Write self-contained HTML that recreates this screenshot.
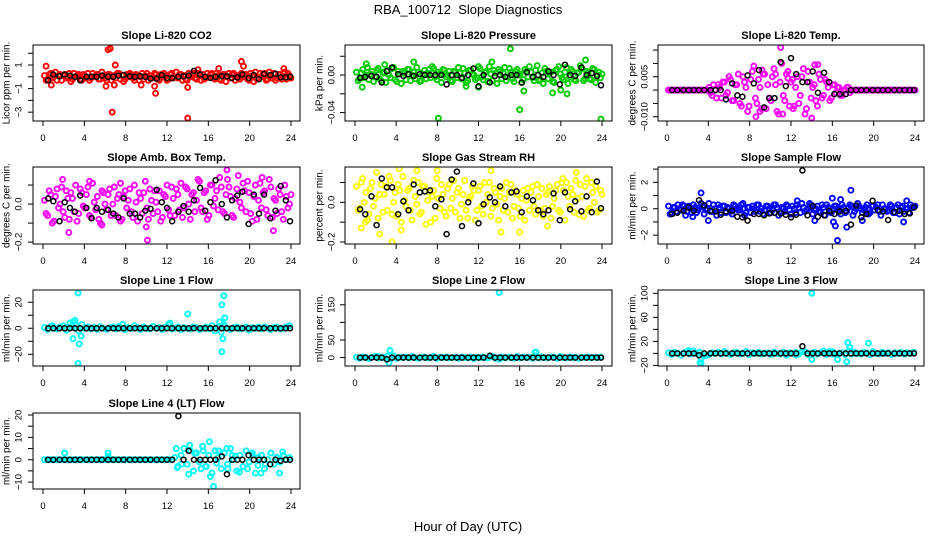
<!DOCTYPE html>
<html><head><meta charset="utf-8"><style>
html,body{margin:0;padding:0;background:#fff;}
svg{display:block;font-family:"Liberation Sans",Arial,sans-serif;}
</style></head><body>
<svg id="chart" width="936" height="540" viewBox="0 0 936 540">
<text x="468" y="14" text-anchor="middle" font-size="13">RBA_100712&#160; Slope Diagnostics</text>
<text x="468" y="531" text-anchor="middle" font-size="13">Hour of Day (UTC)</text>
</svg>
<script>
const sampleHours=[0.15,0.45,0.75,1.05,1.35,1.65,1.95,2.25,2.55,2.85,3.15,3.45,3.75,4.05,4.35,4.65,4.95,5.25,5.55,5.85,6.15,6.45,6.75,7.05,7.35,7.65,7.95,8.25,8.55,8.85,9.15,9.45,9.75,10.05,10.35,10.65,10.95,11.25,11.55,11.85,12.15,12.45,12.75,13.05,13.35,13.65,13.95,14.25,14.55,14.85,15.15,15.45,15.75,16.05,16.35,16.65,16.95,17.25,17.55,17.85,18.15,18.45,18.75,19.05,19.35,19.65,19.95,20.25,20.55,20.85,21.15,21.45,21.75,22.05,22.35,22.65,22.95,23.25,23.55,23.85];
const refHours=[0.5,1.0,1.6,2.1,2.6,3.1,3.6,4.2,4.7,5.2,5.7,6.3,6.8,7.3,7.8,8.4,8.9,9.4,9.9,10.4,11.0,11.5,12.0,12.5,13.1,13.6,14.1,14.6,15.2,15.7,16.2,16.7,17.3,17.8,18.3,18.8,19.3,19.9,20.4,20.9,21.4,22.0,22.5,23.0,23.5,23.9];

const co2A=[0.1,-0.2,0.3,0.0,-0.3,0.2,0.1,-0.1,0.3,-0.2,0.0,0.2,-0.3,0.1,0.3,-0.1,0.0,0.2,-0.2,0.1,-0.3,0.2,0.0,-0.1,0.3,0.1,-0.2,0.0,0.2,-0.3,0.1,0.0,-0.2,0.3,0.1,-0.1,0.2,-0.3,0.0,0.1,-0.2,0.3,0.0,-0.1,0.2,0.1,-0.3,0.0,0.3,-0.2,0.1,0.2,-0.1,0.0,0.3,-0.2,0.1,-0.3,0.2,0.0,-0.1,0.3,0.1,-0.2,0.0,0.2,-0.3,0.1,0.4,-0.1,0.0,0.3,-0.2,0.1,0.3,-0.1,0.2,0.0,-0.2,0.1];
const co2B=[-0.3,0.2,-0.1,0.4,0.1,-0.3,0.2,0.0,-0.4,0.3,0.1,-0.2,0.2,-0.1,-0.3,0.3,0.1,-0.2,0.4,-0.1,0.2,-0.3,0.1,0.3,-0.2,-0.4,0.2,0.3,-0.1,0.2,-0.3,0.3,0.1,-0.3,-0.1,0.3,-0.2,0.2,0.3,-0.3,0.2,-0.1,0.4,0.2,-0.3,-0.2,0.3,0.2,-0.1,0.3,-0.3,-0.2,0.3,0.2,-0.1,0.3,-0.2,0.2,-0.4,0.3,0.2,-0.3,-0.1,0.3,0.2,-0.2,0.3,-0.4,-0.2,0.3,0.2,-0.3,0.4,-0.1,-0.3,0.2,-0.2,0.4,0.3,-0.1];
const co2OutHours=[6.3,6.5,7.0,6.7,14.0,10.9,19.2,19.4,6.1,9.5,10.8,0.3,0.8,6.9,14.0,15.0,17.0,23.3];
const co2OutValues=[2.3,2.4,1.0,-3.0,-3.5,-1.4,1.3,0.9,-0.8,-0.7,-0.8,0.9,-0.7,-0.7,-0.9,0.6,0.7,0.7];
const co2Ref=[-0.3,0.2,0.05,0.2,0.1,0.0,-0.3,0.0,0.0,0.0,0.1,0.0,0.0,0.1,0.15,0.05,0.0,0.05,0.0,-0.15,-0.15,0.15,-0.1,-0.1,0.0,0.05,0.1,0.5,0.2,0.0,-0.1,0.0,0.05,0.05,-0.1,-0.05,0.2,-0.1,0.15,-0.2,0.25,0.15,0.25,-0.05,-0.05,0.0];

const presA=[0.003,-0.004,0.006,0.0,-0.005,0.004,-0.002,0.007,-0.006,0.002,0.005,-0.003,0.008,-0.007,0.001,0.004,-0.005,0.006,0.0,-0.004,0.003,-0.006,0.005,0.002,-0.003,0.007,-0.005,0.001,0.006,-0.002,0.004,-0.007,0.003,0.008,-0.004,0.002,-0.006,0.005,0.0,-0.003,0.007,-0.005,0.004,0.009,-0.006,0.002,0.006,-0.004,0.008,-0.002,0.003,-0.007,0.006,0.001,-0.005,0.004,0.009,-0.003,0.005,-0.006,0.002,0.007,-0.004,0.003,-0.008,0.006,0.001,-0.005,0.008,-0.002,0.004,-0.006,0.003,0.007,-0.004,0.002,-0.005,0.006,0.0,-0.003];
const presB=[-0.006,0.002,-0.003,0.008,0.001,-0.007,0.005,-0.004,0.003,-0.008,0.0,0.007,-0.005,0.004,-0.009,0.002,0.006,-0.006,0.003,0.008,-0.007,0.001,-0.004,0.006,0.009,-0.002,0.003,-0.008,0.005,0.0,-0.006,0.004,-0.003,0.002,0.007,-0.008,0.005,0.001,-0.005,0.009,-0.002,0.003,-0.007,0.001,0.005,-0.009,0.004,0.002,-0.006,0.007,-0.004,0.004,0.0,-0.008,0.006,-0.002,0.003,-0.006,0.010,-0.005,-0.009,0.004,0.002,-0.007,0.005,0.009,-0.003,0.003,-0.009,0.006,-0.005,0.002,0.010,-0.006,0.004,-0.004,0.007,-0.008,0.003,0.001];
const presOutHours=[8.1,15.1,16.0,23.9,16.4,19.2,20.0,20.6,12.0,22.4,13.3,5.7,1.1,0.7,10.8,2.9];
const presOutValues=[-0.046,0.028,-0.037,-0.047,-0.017,-0.019,-0.016,-0.020,-0.013,0.016,0.014,0.014,0.012,-0.013,-0.012,0.011];
const presRef=[-0.003,-0.002,-0.001,-0.002,-0.008,0.004,0.008,0.001,-0.001,0.001,-0.001,0.001,0,0,0,0,-0.010,0,0,-0.003,0,0.007,-0.012,0,-0.008,-0.001,0,-0.002,0,0,-0.008,0.003,-0.002,0,-0.002,0.004,0,-0.010,0.011,0,-0.001,0.008,0,0.002,-0.001,-0.011];

const tempA=[0,0,0,0,0,0,0,0,0,0,0,0,0,0.001,-0.002,0.0,0.002,-0.003,0.003,-0.001,0.004,-0.004,0.002,-0.005,0.005,0.001,-0.006,0.007,-0.003,0.004,-0.007,0.006,0.002,-0.004,0.008,-0.008,0.003,-0.002,0.006,-0.006,0.004,0.001,-0.005,0.005,-0.009,0.007,-0.003,0.002,-0.006,0.004,-0.002,0.003,-0.004,0.002,-0.001,0.001,-0.002,0.0,0.001,0,0,0,0,0,0,0,0,0,0,0,0,0,0,0,0,0,0,0,0,0];
const tempB=[0,0,0,0,0,0,0,0,0,0,0,0,0,-0.001,0.002,-0.003,0.001,0.003,-0.002,0.005,-0.004,0.002,0.006,-0.006,0.003,-0.008,0.004,0.009,-0.005,0.001,0.006,-0.007,-0.003,0.005,0.002,-0.009,0.010,-0.004,0.007,0.003,-0.006,0.005,-0.002,0.008,-0.007,0.003,0.001,-0.004,0.006,-0.003,0.004,0.001,-0.003,0.002,0.001,-0.002,0.0,0.001,-0.001,0,0,0,0,0,0,0,0,0,0,0,0,0,0,0,0,0,0,0,0,0];
const tempOutHours=[11.0,8.6,14.0,11.2,9.0,9.2,14.3,14.6,11.7,12.2,10.5];
const tempOutValues=[0.016,-0.010,-0.0105,-0.009,-0.008,0.0075,0.0095,0.0095,0.0045,-0.007,0.006];
const tempRef=[0,0,0,0,0,0,0,0,0,0,-0.0035,0.0025,-0.002,-0.0025,0.0055,0.0025,0.0075,-0.0065,-0.003,-0.003,0.0105,0.0015,0.012,0.006,0.003,0.003,0.007,-0.001,0.0065,0.003,-0.0015,-0.0015,-0.0015,0,0,0,0,0,0,0,0,0,0,0,0,0];

const ambA=[0.02,-0.06,0.05,-0.09,0.08,0.0,-0.04,0.07,-0.08,0.03,0.1,-0.05,0.06,-0.02,0.09,-0.07,0.01,0.04,-0.1,0.06,-0.03,0.08,0.0,-0.06,0.05,-0.08,0.07,0.02,-0.04,0.1,-0.09,0.03,0.06,-0.02,0.08,-0.05,0.01,0.07,-0.07,0.04,-0.03,0.09,-0.06,0.05,0.11,-0.02,0.08,-0.08,0.06,0.02,0.12,-0.04,0.07,-0.06,0.1,0.03,-0.03,0.09,-0.05,0.13,0.04,-0.07,0.08,0.01,0.11,-0.04,0.06,-0.09,0.1,0.02,-0.02,0.07,-0.06,0.09,0.03,-0.05,0.05,-0.08,0.04,0.0];
const ambB=[-0.05,0.07,-0.1,0.04,-0.02,0.09,-0.07,0.03,0.06,-0.04,-0.09,0.08,-0.01,0.05,-0.06,0.11,-0.03,-0.08,0.07,0.0,0.05,-0.06,0.09,0.03,-0.09,0.04,-0.02,0.08,-0.07,0.01,0.06,-0.05,0.12,-0.08,0.02,0.07,-0.04,-0.09,0.05,0.1,-0.06,0.03,0.08,-0.03,-0.07,0.09,0.0,0.05,-0.04,0.13,-0.02,0.06,-0.08,0.1,-0.01,0.07,0.14,-0.04,0.05,0.09,-0.06,0.03,0.15,-0.02,0.07,0.12,-0.05,0.04,-0.08,0.11,0.06,-0.03,0.13,-0.07,0.02,0.08,-0.04,0.1,-0.02,0.05];
const ambOutHours=[10.1,1.9,17.8,21.2,22.3,2.5,10.0,4.5,7.5,5.7];
const ambOutValues=[-0.19,0.13,0.18,0.14,-0.14,-0.15,-0.12,0.12,0.11,-0.11];
const ambRef=[0.03,0.015,-0.09,0.01,-0.02,-0.04,0.045,-0.02,-0.075,-0.02,-0.04,-0.03,-0.05,-0.07,0.03,-0.05,-0.05,-0.07,-0.035,-0.025,0.075,0.01,-0.02,-0.09,-0.04,-0.01,-0.04,0.02,0.085,-0.035,0.01,0.125,0.0,-0.07,0.02,0.045,0.065,-0.105,0.05,-0.05,0.05,-0.075,-0.035,0.095,0.02,-0.09];

const rhA=[0.08,-0.03,0.12,0.05,-0.06,0.1,0.02,-0.08,0.09,0.04,-0.04,0.11,0.0,-0.07,0.06,0.13,-0.02,0.07,-0.09,0.03,0.1,-0.05,0.08,0.01,-0.1,0.06,0.12,-0.03,0.04,-0.07,0.09,0.02,-0.05,0.07,-0.01,0.11,-0.08,0.03,0.06,-0.04,0.08,-0.06,0.0,0.1,-0.03,0.05,-0.09,0.07,0.02,-0.05,0.09,-0.02,0.04,-0.07,0.06,0.01,-0.04,0.08,-0.06,0.03,0.07,-0.03,0.05,-0.08,0.02,0.09,-0.05,0.06,0.1,-0.02,0.04,0.11,-0.06,0.03,0.08,-0.04,0.1,0.0,-0.05,0.06];
const rhB=[-0.04,0.1,0.0,-0.09,0.07,-0.02,0.15,0.04,-0.05,0.08,0.13,-0.06,0.05,0.09,-0.1,0.01,0.06,-0.04,0.11,-0.01,-0.06,0.08,-0.11,0.05,0.03,-0.08,0.02,0.09,-0.05,0.07,-0.03,0.11,0.05,-0.08,0.04,-0.04,0.02,0.08,-0.09,0.06,-0.02,0.1,0.04,-0.07,0.07,-0.01,0.03,-0.04,0.1,0.05,-0.08,0.06,-0.03,0.02,-0.09,0.07,0.05,-0.02,0.09,-0.04,-0.07,0.04,0.08,-0.02,0.06,-0.04,0.1,-0.09,0.03,0.07,-0.05,0.02,0.09,-0.07,0.12,-0.03,0.05,0.08,-0.04,0.04];
const rhOutHours=[3.6,2.4,4.5,6.0,4.3,13.2,8.0,0.6,16.0,14.2,18.7,20.2,21.5,1.0];
const rhOutValues=[-0.2,-0.16,-0.14,0.16,0.17,0.16,0.16,-0.13,-0.15,-0.15,-0.12,0.12,0.15,-0.1];
const rhRef=[-0.035,-0.06,0.03,-0.115,0.12,0.075,0.075,-0.06,0.005,-0.04,0.09,0.05,0.055,0.06,-0.02,0.015,-0.16,0.115,0.155,-0.12,0.0,0.095,-0.105,-0.01,0.025,0.0,0.08,-0.02,0.05,0.055,-0.05,0.03,0.01,-0.04,-0.06,-0.04,0.045,-0.09,0.05,-0.035,0.005,-0.045,0.03,-0.05,0.105,-0.03];

const flowA=[0.2,-0.3,0.1,0.3,-0.1,0.2,-0.2,0.0,0.3,-0.3,0.1,0.2,-0.1,0.4,-0.2,0.0,0.3,-0.3,0.2,0.1,-0.2,0.3,0.0,-0.1,0.4,-0.3,0.1,0.2,-0.2,0.3,0.0,-0.1,0.2,-0.3,0.3,0.1,-0.2,0.0,0.3,-0.1,0.2,-0.3,0.1,0.4,-0.2,0.0,0.3,-0.1,0.2,-0.3,0.1,0.3,-0.2,0.0,0.2,-0.1,0.3,-0.3,0.1,0.2,-0.2,0.4,0.0,-0.1,0.3,-0.3,0.2,0.1,-0.2,0.3,0.0,-0.1,0.2,-0.3,0.3,0.1,-0.2,0.0,0.3,0.1];
const flowB=[-0.4,0.1,-0.2,0.0,0.3,-0.5,0.2,-0.3,0.1,-0.1,0.4,-0.4,0.0,-0.2,0.3,-0.5,0.1,0.2,-0.3,0.0,-0.4,0.2,-0.1,0.3,-0.5,0.1,-0.3,0.0,0.3,-0.2,-0.4,0.2,0.0,-0.1,0.3,-0.5,0.1,-0.2,0.2,-0.4,0.0,0.3,-0.3,0.1,-0.1,0.4,-0.4,0.0,-0.2,0.3,-0.5,0.1,-0.3,0.2,0.0,-0.4,0.1,-0.2,0.3,-0.5,0.0,0.2,-0.3,0.1,-0.4,0.2,-0.1,0.3,-0.5,0.0,-0.2,0.3,-0.3,0.1,-0.4,0.2,0.0,-0.3,0.1,0.2];
const flowOutHours=[3.3,17.8,16.5,16.3,16.1,17.4,22.9,16.0,14.3,4.0,12.6,23.2,16.8,2.5,18.9];
const flowOutValues=[1.2,1.4,-2.4,-1.3,-1.0,-1.4,-1.0,0.8,-0.9,-0.9,0.6,0.6,0.7,-0.6,-0.9];
const flowRef=[-0.4,-0.3,-0.15,0.1,-0.15,0.65,0.25,-0.15,-0.2,-0.45,-0.2,-0.15,-0.6,-0.65,-0.9,-0.4,-0.4,-0.5,-0.35,-0.3,-0.35,-0.45,-0.65,-0.45,2.9,-0.5,0.2,-0.6,-0.5,-0.15,-0.4,-0.2,-0.15,-1.2,0.25,-0.65,-0.4,0.6,-0.1,-0.2,-0.85,-0.25,-0.15,-0.4,-0.35,0.1];

const line1A=[0.5,-1,1.5,0,-0.5,1,2,-1.5,0.5,1,2.5,-2,3,0,1,-0.5,0.8,-1,1.2,0,-0.8,0.5,1,-0.5,1.5,0,-1,0.5,-0.2,2,0.5,-1,1,0,-0.5,1.5,0,0.5,-1,1,3,-0.5,0,1,-1,0.5,0,-0.5,1,0.5,-1,0,1,-0.5,2,-2,1,-3,1.5,0,-1,0.5,1,-0.5,0,1,-1.5,0.5,0,1,-0.5,1,0,-1,0.5,1,-0.5,0,1,2];
const line1OutHours=[3.4,3.4,3.5,2.9,3.7,2.9,3.1,14.0,17.3,17.5,17.6,17.4,17.3,17.1,12.3,7.7,17.5,0.9,2.6];
const line1OutValues=[27,-27,-12,-8,-6,5,6,11,18,25,8,-8,-18,5,4,3,3,2,4];
const line1Ref=[0,0,0,0,0,0,0,0,0,0,0,0,0,0,0,0,0,0,0,0,0,0,0,0,0,0,0,0,0,0,0,0,0,0,0,0,0,0,0,0,0,0,0,0,0,0];

const line2A=[1,-2,2,0,-3,1,3,-1,2,0,4,-3,5,-2,1,0,2,-1,3,0,-2,1,2,-1,0,3,-2,1,0,2,-1,0,1,-2,2,0,-1,2,-3,1,0,2,-1,1,3,-2,0,2,-1,1,0,-2,3,-1,2,0,1,-2,5,-1,2,0,-1,2,1,-2,3,0,-1,2,0,1,-2,1,0,2,-1,1,0,2];
const line2OutHours=[14.0,3.4,3.3,17.5,17.6,14.0,2.2];
const line2OutValues=[185,20,-15,15,15,-5,3];
const line2Ref=[0,0,0,0,0,-5,0,0,0,0,0,0,0,0,0,0,0,0,0,0,0,0,0,0,5,0,0,0,0,0,0,0,0,0,0,0,0,0,0,0,0,0,0,0,0,0];

const line3A=[1,-2,2,0,-3,1,3,-1,4,0,2,-3,-4,-2,1,0,2,-1,3,0,-2,1,2,-1,0,3,-2,1,0,2,-1,0,1,-2,2,0,-1,2,-3,1,0,2,-1,3,3,-2,0,2,-1,1,4,-2,3,-1,-2,0,1,-2,4,-1,2,0,-1,2,1,-2,3,0,-1,2,0,1,-2,1,0,2,-1,1,0,2];
const line3OutHours=[14.0,2.1,3.2,3.3,3.3,17.5,19.5,17.7,14.0,16.5,17.4,16.0,12.5];
const line3OutValues=[100,5,-15,-18,-10,18,17,10,-10,-10,-14,3,-3];
const line3Ref=[0,0,0,0,0,-3,0,0,0,0,0,0,0,0,0,0,0,0,0,0,0,0,0,0,12,0,0,0,0,0,0,0,0,0,0,0,0,0,0,0,0,0,0,0,0,0];

const line4A=[0,0,0,0,0,0,0,0,0,0,0,0,0,0,0,0,0,0,0,0,0,0,0,0,0,0,0,0,0,0,0,0,0,0,0,0,0,0,0,0,0,0,1,-3,2,5,-2,4,-5,3,-1,6,-3,2,-6,4,1,-4,3,-2,5,0,-5,2,-3,4,-1,3,-6,1,2,-4,0,3,-2,1,-1,2,0,1];
const line4OutHours=[2.1,6.3,6.3,16.5,16.1,12.9,14.2,14.1,16.2,15.5,17.0,17.8,19.0,19.8,21.1,22.9,23.2,15.3,17.9,20.3,21.5,22.6,15.8,13.4,18.3,14.7,16.8,20.8,18.6,13.0];
const line4OutValues=[3,3,1.5,-12,8,5,6.5,-6.5,-7.5,4,4,5,-5.5,-4,-6,-6,3.5,-4,-4,2,-2,1,-3,-2,2,3,-1.5,-2.5,1.5,-3.5];
const line4Ref=[0,0,0,0,0,0,0,0,0,0,0,0,0,0,0,0,0,0,0,0,0,0,0,0,19.5,0,4,0,0,0,0,0,1.5,-6.5,0,0,0,2,0,0,0,-2,0,-0.5,0,0];

const cols=[{bx0:33,bx1:300,h0:43,h24:291,ylab:7,tick:19},{bx0:345,bx1:612,h0:355,h24:602,ylab:320,tick:332},{bx0:658,bx1:924,h0:667,h24:915,ylab:633,tick:645}];
const rows=[{y0:45,y1:121},{y0:167,y1:244},{y0:290,y1:366},{y0:413,y1:489}];
const hourTicks=[0,4,8,12,16,20,24];

const panels=[
 {name:'co2',c:0,r:0,title:'Slope Li-820 CO2',ylab:'Licor ppm per min.',top:2.7,bot:-3.75,ticks:[-3,-2,-1,0,1,2],labels:[[-3,'\u22123'],[-1,'\u22121'],[1,'1']],col:'#ff0000',A:co2A,B:co2B,oh:co2OutHours,ov:co2OutValues,ref:co2Ref},
 {name:'pressure',c:1,r:0,title:'Slope Li-820 Pressure',ylab:'kPa per min.',top:0.032,bot:-0.049,ticks:[-0.04,-0.02,0,0.02],labels:[[-0.04,'\u22120.04'],[0,'0.00']],col:'#00cc00',A:presA,B:presB,oh:presOutHours,ov:presOutValues,ref:presRef},
 {name:'temp',c:2,r:0,title:'Slope Li-820 Temp.',ylab:'degrees C per min.',top:0.0169,bot:-0.0116,ticks:[-0.01,-0.005,0,0.005,0.01,0.015],labels:[[-0.01,'\u22120.010'],[0.005,'0.005']],col:'#ff00ff',A:tempA,B:tempB,oh:tempOutHours,ov:tempOutValues,ref:tempRef},
 {name:'amb-box-temp',c:0,r:1,title:'Slope Amb. Box Temp.',ylab:'degrees C per min.',top:0.195,bot:-0.21,ticks:[-0.2,-0.1,0,0.1],labels:[[-0.2,'\u22120.2'],[0,'0.0']],col:'#ff00ff',A:ambA,B:ambB,oh:ambOutHours,ov:ambOutValues,ref:ambRef},
 {name:'gas-stream-rh',c:1,r:1,title:'Slope Gas Stream RH',ylab:'percent per min.',top:0.178,bot:-0.21,ticks:[-0.2,-0.1,0,0.1],labels:[[-0.2,'\u22120.2'],[0,'0.0']],col:'#ffff00',A:rhA,B:rhB,oh:rhOutHours,ov:rhOutValues,ref:rhRef},
 {name:'sample-flow',c:2,r:1,title:'Slope Sample Flow',ylab:'ml/min per min.',top:3.16,bot:-2.67,ticks:[-2,-1,0,1,2,3],labels:[[-2,'\u22122'],[0,'0'],[2,'2']],col:'#0000ff',A:flowA,B:flowB,oh:flowOutHours,ov:flowOutValues,ref:flowRef},
 {name:'line1-flow',c:0,r:2,title:'Slope Line 1 Flow',ylab:'ml/min per min.',top:29.4,bot:-29,ticks:[-20,-10,0,10,20],labels:[[-20,'\u221220'],[0,'0'],[20,'20']],col:'#00ffff',A:line1A,B:null,oh:line1OutHours,ov:line1OutValues,ref:line1Ref},
 {name:'line2-flow',c:1,r:2,title:'Slope Line 2 Flow',ylab:'ml/min per min.',top:192,bot:-24,ticks:[0,50,100,150],labels:[[0,'0'],[50,'50'],[150,'150']],col:'#00ffff',A:line2A,B:null,oh:line2OutHours,ov:line2OutValues,ref:line2Ref},
 {name:'line3-flow',c:2,r:2,title:'Slope Line 3 Flow',ylab:'ml/min per min.',top:105.5,bot:-21,ticks:[-20,0,20,40,60,80,100],labels:[[-20,'\u221220'],[20,'20'],[60,'60'],[100,'100']],col:'#00ffff',A:line3A,B:null,oh:line3OutHours,ov:line3OutValues,ref:line3Ref},
 {name:'line4-flow',c:0,r:3,title:'Slope Line 4 (LT) Flow',ylab:'ml/min per min.',top:20.9,bot:-13.1,ticks:[-10,-5,0,5,10,15,20],labels:[[-10,'\u221210'],[0,'0'],[10,'10'],[20,'20']],col:'#00ffff',A:line4A,B:null,oh:line4OutHours,ov:line4OutValues,ref:line4Ref}
];

const svg=document.getElementById('chart');
const NS='http://www.w3.org/2000/svg';
function mk(tag,attrs,parent){const e=document.createElementNS(NS,tag);for(const k in attrs)e.setAttribute(k,attrs[k]);parent.appendChild(e);return e;}

panels.forEach(p=>{
  const C=cols[p.c],R=rows[p.r];
  const g=mk('g',{},svg);
  
  
  const xs=h=>C.h0+(h/24)*(C.h24-C.h0);
  const ys=v=>R.y0+(p.top-v)/(p.top-p.bot)*(R.y1-R.y0);
  const t=mk('text',{x:(C.bx0+C.bx1)/2,y:R.y0-6,'text-anchor':'middle','font-size':11,'font-weight':'bold'},g);
  t.textContent=p.title;
  
  
  const yl=mk('text',{x:C.ylab,y:(R.y0+R.y1)/2,'text-anchor':'middle','font-size':10,transform:'rotate(-90 '+C.ylab+' '+((R.y0+R.y1)/2)+')','dominant-baseline':'central'},g);
  yl.textContent=p.ylab;
  
  
  const cid='clip-'+p.name;
  const cp=mk('clipPath',{id:cid},g);
  mk('rect',{x:C.bx0,y:R.y0,width:C.bx1-C.bx0,height:R.y1-R.y0},cp);
  const pts=mk('g',{'clip-path':'url(#'+cid+')',fill:'none'},g);
  
  
  const dot=(h,v,col,nm,sw)=>{const c=mk('circle',{cx:xs(h).toFixed(1),cy:ys(v).toFixed(1),r:2.5,stroke:col,'stroke-width':sw},pts);
    
    };
  p.A.forEach((v,i)=>{if(sampleHours[i]!==undefined)dot(sampleHours[i],v,p.col,'sample-point',1.9);});
  if(p.B)p.B.forEach((v,i)=>{if(sampleHours[i]!==undefined)dot(sampleHours[i]+0.15,v,p.col,'sample-point',1.9);});
  p.oh.forEach((h,i)=>dot(h,p.ov[i],p.col,'outlier-point',1.9));
  p.ref.forEach((v,i)=>dot(refHours[i],v,'#000','reference-point',1.5));
  const box=mk('rect',{x:C.bx0,y:R.y0,width:C.bx1-C.bx0,height:R.y1-R.y0,fill:'none',stroke:'#000','stroke-width':1},g);
  
  
  hourTicks.forEach(h=>{
    mk('line',{x1:xs(h),x2:xs(h),y1:R.y1,y2:R.y1+5,stroke:'#000'},g);
    const l=mk('text',{x:xs(h),y:R.y1+20,'text-anchor':'middle','font-size':9.5},g);
    l.textContent=h;
    
    
  });
  p.ticks.forEach(v=>{mk('line',{x1:C.bx0-5,x2:C.bx0,y1:ys(v),y2:ys(v),stroke:'#000'},g);});
  p.labels.forEach(([v,s])=>{
    const yy=ys(v);
    const l=mk('text',{x:C.tick,y:yy,'text-anchor':'middle','font-size':9.5,'dominant-baseline':'central',transform:'rotate(-90 '+C.tick+' '+yy+')'},g);
    l.textContent=s;
    
    
  });
});
</script>
</body></html>
